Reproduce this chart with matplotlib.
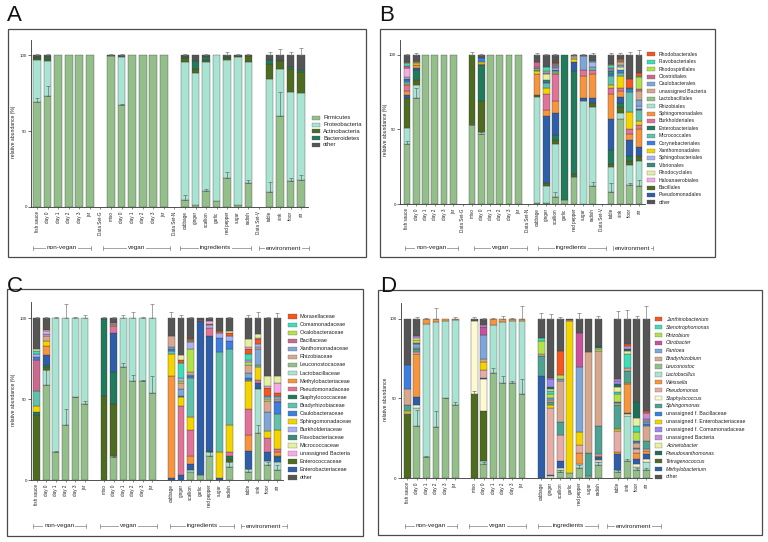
import numpy as np
import matplotlib
matplotlib.use("Agg")
import matplotlib.pyplot as plt
from matplotlib.patches import Rectangle
from matplotlib.lines import Line2D

plt.rcParams['font.family'] = ['Liberation Sans', 'DejaVu Sans']

W, H = 768, 542
fig = plt.figure(figsize=(W / 100, H / 100), dpi=100)


def fx(x):
    return x / W


def fy(y):
    return 1 - y / H


# ---------------- categories ----------------
samples_ab = ['fish sauce', 'day 0', 'day 1', 'day 2', 'day 3', 'jar', 'Data Set-G',
              'miso', 'day 0', 'day 1', 'day 2', 'day 3', 'jar', 'Data Set-N',
              'cabbage', 'ginger', 'scallion', 'garlic', 'red pepper', 'sugar', 'radish', 'Data Set-V',
              'table', 'sink', 'floor', 'air']
samples_cd = ['fish sauce', 'day 0', 'day 1', 'day 2', 'day 3', 'jar', '',
              'miso', 'day 0', 'day 1', 'day 2', 'day 3', 'jar', '',
              'cabbage', 'ginger', 'scallion', 'garlic', 'red pepper', 'sugar', 'radish', '',
              'table', 'sink', 'floor', 'air']
group_names = ['non-vegan', 'vegan', 'ingredients', 'environment']

# ---------------- Panel A: phylum ----------------
a_firmicutes = [69, 73, 100, 100, 100, 100, 0, 99.5, 67, 100, 100, 100, 100, 0, 4.5, 1, 10.5, 4, 19, 1, 15.5, 0, 10, 60, 17, 17.5]
a_proteobacteria = [28, 23, 0, 0, 0, 0, 0, 0, 32, 0, 0, 0, 0, 0, 91, 87, 85, 96, 78, 98, 80, 0, 74, 31, 59, 57.5]
a_actinobacteria = [1, 1.5, 0, 0, 0, 0, 0, 0, 0, 0, 0, 0, 0, 0, 2.5, 3, 1.5, 0, 1, 0.5, 4, 0, 10, 5, 15, 14]
a_bacteroidetes = [0.5, 1, 0, 0, 0, 0, 0, 0, 0, 0, 0, 0, 0, 0, 1, 5, 1.5, 0, 0.5, 0, 0, 0, 3, 1, 1.5, 1]
a_other = [1.5, 1.5, 0, 0, 0, 0, 0, 0.5, 1, 0, 0, 0, 0, 0, 1, 4, 1.5, 0, 1.5, 0.5, 0.5, 0, 3, 3, 7.5, 10]
a_err_top = [1, 1, 0, 0, 0, 0, 0, 0.5, 0.5, 0, 0, 0, 0, 0, 0.5, 0, 0.5, 0, 2, 0.5, 1, 0, 2, 4, 2, 5]
a_err_base = [3, 7, 0, 0, 0, 0, 0, 0, 1, 0, 0, 0, 0, 0, 3.5, 0, 1.5, 0, 4, 0, 2, 0, 6.5, 16, 2, 3.5]
a_legend = ['Firmicutes', 'Proteobacteria', 'Actinobacteria', 'Bacteroidetes', 'other']
a_colors = ['#94bf8b', '#a9e4d3', '#4e6c20', '#207a5b', '#555555']

# ---------------- Panel B: order ----------------
b_lactobacillales = [40, 71, 100, 100, 100, 100, 0, 53, 47, 100, 100, 100, 100, 0, 1, 1, 5, 3, 18, 0, 12, 0, 8, 57, 13, 12]
b_rhizobiales = [11, 9, 0, 0, 0, 0, 0, 0, 1, 0, 0, 0, 0, 0, 71, 11, 35, 0, 0, 69, 53, 0, 17, 4, 13, 17]
b_bacillales = [20, 3, 0, 0, 0, 0, 0, 47, 21, 0, 0, 0, 0, 0, 1, 2, 3, 0, 2, 0, 3, 0, 2, 4, 3, 3]
b_enterobacteriales = [0, 7, 0, 0, 0, 0, 0, 0, 24, 0, 0, 0, 0, 0, 0, 0, 3, 97, 69, 0, 0, 0, 9, 3, 3, 0]
b_pseudomonadales = [2, 1.5, 0, 0, 0, 0, 0, 0, 0, 0, 0, 0, 0, 0, 0, 45, 15, 0, 6, 2, 3, 0, 21, 4, 11, 6]
b_sphingomonadales = [3, 1.5, 0, 0, 0, 0, 0, 0, 1, 0, 0, 0, 0, 0, 14, 4, 8, 0, 0, 15, 16, 0, 17, 4, 4, 12]
b_burkholderiales = [4, 0.5, 0, 0, 0, 0, 0, 0, 0, 0, 0, 0, 0, 0, 0, 11, 18, 0, 0, 4, 3, 0, 4, 2, 3, 3]
b_xanthomonadales = [0.5, 1, 0, 0, 0, 0, 0, 0, 1, 0, 0, 0, 0, 0, 2.5, 4, 1, 0, 2, 0, 0, 0, 2, 8, 12, 3]
b_micrococcales = [1, 1, 0, 0, 0, 0, 0, 0, 0, 0, 0, 0, 0, 0, 0.5, 3, 1, 0, 0, 0, 2, 0, 6, 2, 13, 7]
b_corynebacteriales = [1.5, 0, 0, 0, 0, 0, 0, 0, 3, 0, 0, 0, 0, 0, 0, 1, 1, 0, 0, 0, 0, 0, 1, 2, 2, 0]
b_vibrionales = [1, 0, 0, 0, 0, 0, 0, 0, 0, 0, 0, 0, 0, 0, 0, 1, 0, 0, 0, 0, 0, 0, 2, 0, 1, 1]
b_sphingobacteriales = [1, 0, 0, 0, 0, 0, 0, 0, 0, 0, 0, 0, 0, 0, 0, 0, 1, 0, 0, 0, 3, 0, 1, 0, 0, 2]
b_rhodocyclales = [0, 0, 0, 0, 0, 0, 0, 0, 0, 0, 0, 0, 0, 0, 0.5, 4, 0, 0, 1, 0, 0, 0, 0, 2, 0, 0]
b_haloanaerobiales = [6, 0, 0, 0, 0, 0, 0, 0, 0, 0, 0, 0, 0, 0, 0, 0, 0, 0, 0, 0, 0, 0, 0.5, 0, 0, 0]
b_caulobacterales = [0, 0, 0, 0, 0, 0, 0, 0, 0, 0, 0, 0, 0, 0, 0.5, 1, 1, 0, 0, 9, 0, 0, 1, 1, 0, 4]
b_unassigned = [0.5, 0, 0, 0, 0, 0, 0, 0, 0, 0, 0, 0, 0, 0, 1, 1, 0, 0, 1.5, 0, 0, 0, 0, 2, 0, 6]
b_clostridiales = [1, 0, 0, 0, 0, 0, 0, 0, 0, 0, 0, 0, 0, 0, 3, 0, 1, 0, 0, 0, 0, 0, 0, 0, 0, 1]
b_rhodospirillales = [0, 0, 0, 0, 0, 0, 0, 0, 0, 0, 0, 0, 0, 0, 0, 0, 0, 0, 0, 0, 0, 0, 0, 0, 0, 8]
b_flavobacteriales = [2, 0, 0, 0, 0, 0, 0, 0, 0, 0, 0, 0, 0, 0, 0, 3, 1, 0, 0, 0, 1, 0, 2, 1, 0, 1]
b_rhodobacterales = [0.5, 0.5, 0, 0, 0, 0, 0, 0, 0, 0, 0, 0, 0, 0, 0.5, 0, 0.5, 0, 0, 0, 0, 0, 0.5, 1, 6, 2]
b_other = [5, 4, 0, 0, 0, 0, 0, 0, 2, 0, 0, 0, 0, 0, 4.5, 8, 5.5, 0, 0.5, 1, 4, 0, 6, 3, 16, 12]
b_err_top = [0.5, 1, 0, 0, 0, 0, 0, 2, 0.5, 0, 0, 0, 0, 0, 1, 0.5, 0.5, 0, 0.5, 0.5, 1, 0, 1, 1, 2, 3]
b_err_base = [2, 7, 0, 0, 0, 0, 0, 0.5, 1, 0, 0, 0, 0, 0, 0, 0, 3, 0, 0, 0, 3, 0, 6, 0, 1, 4]
b_legend = ['Rhodobacterales', 'Flavobacteriales', 'Rhodospirillales', 'Clostridiales', 'Caulobacterales',
            'unassigned Bacteria', 'Lactobacillales', 'Rhizobiales', 'Sphingomonadales', 'Burkholderiales',
            'Enterobacteriales', 'Micrococcales', 'Corynebacteriales', 'Xanthomonadales', 'Sphingobacteriales',
            'Vibrionales', 'Rhodocyclales', 'Haloanaerobiales', 'Bacillales', 'Pseudomonadales', 'other']

# ---------------- Panel C: family ----------------
c_leuconostocaceae = [0, 59, 17, 34, 51, 47, 0, 0, 14, 70, 61, 61, 54, 0, 0, 0, 5, 3, 15, 0, 8, 0, 5, 29, 9, 6]
c_lactobacillaceae = [0, 9, 83, 66, 49, 53, 0, 0, 1, 30, 39, 39, 46, 0, 0, 0, 1, 0, 2, 0, 3, 0, 2, 27, 3, 5]
c_enterococcaceae = [40, 2, 0, 0, 0, 0, 0, 52, 32, 0, 0, 0, 0, 0, 0, 0, 0, 0, 0, 0, 2, 0, 0, 0, 0, 0]
c_staphylococcaceae = [2, 1, 0, 0, 0, 0, 0, 47.5, 20, 0, 0, 0, 0, 0, 0, 0, 0, 0, 1, 0, 2, 0, 0, 1, 0, 0]
c_enterobacteriaceae = [0, 6, 0, 0, 0, 0, 0, 0, 24, 0, 0, 0, 0, 0, 1, 3, 4, 95, 71, 1, 0, 0, 11, 3, 5, 3]
c_flavobacteriaceae = [0, 0, 0, 0, 0, 0, 0, 0, 0, 0, 0, 0, 0, 0, 0, 0, 0, 0, 0, 0, 0, 0, 0, 0, 0, 1]
c_methylobacteriaceae = [0, 6, 0, 0, 0, 0, 0, 0, 0, 0, 0, 0, 0, 0, 63, 0, 5, 0, 0, 0, 0, 0, 10, 0, 0, 2]
c_pseudomonadaceae = [0, 0, 0, 0, 0, 0, 0, 0, 4, 0, 0, 0, 0, 0, 0, 43, 16, 0, 5, 0, 2, 0, 16, 2, 9, 2]
c_sphingomonadaceae = [4, 3, 0, 0, 0, 0, 0, 0, 0.5, 0, 0, 0, 0, 0, 14, 5, 8, 0, 0, 16, 17, 0, 17, 8, 4, 12]
c_bradyrhizobiaceae = [9, 0, 0, 0, 0, 0, 0, 0, 0, 0, 0, 0, 0, 0, 2, 0, 24, 0, 0, 62, 47, 0, 1, 1, 0, 10]
c_bacillaceae = [19, 0, 0, 0, 0, 0, 0, 0, 0, 0, 0, 0, 0, 0, 0, 0, 0, 0, 0, 0, 0, 0, 0, 0, 0, 0]
c_caulobacteraceae = [2, 0, 0, 0, 0, 0, 0, 0, 0, 0, 0, 0, 0, 0, 1, 1, 1, 0, 0, 9, 5, 0, 1, 0, 0, 7]
c_xanthomonadaceae = [0, 0, 0, 0, 0, 0, 0, 0, 0, 0, 0, 0, 0, 0, 1, 4, 1, 0, 0, 0, 0, 0, 3, 10, 12, 1]
c_rhizobiaceae = [0, 3, 0, 0, 0, 0, 0, 0, 0, 0, 0, 0, 0, 0, 7, 4, 2, 0, 0, 0, 0, 0, 5, 1, 7, 1]
c_oxalobacteraceae = [0, 0, 0, 0, 0, 0, 0, 0, 0, 0, 0, 0, 0, 0, 0, 1, 14, 0, 0, 0, 0, 0, 2, 0, 1, 0]
c_burkholderiaceae = [2, 1, 0, 0, 0, 0, 0, 0, 1, 0, 0, 0, 0, 0, 0, 2, 4, 0, 2, 3, 3, 0, 1, 2, 1, 1]
c_comamonadaceae = [2, 0, 0, 0, 0, 0, 0, 0, 0, 0, 0, 0, 0, 0, 0, 9, 1, 0, 0, 0, 0, 0, 4, 0, 1, 1]
c_moraxellaceae = [0, 0.5, 0, 0, 0, 0, 0, 0, 0, 0, 0, 0, 0, 0, 0, 2, 1, 1, 0.5, 1, 2, 0, 3, 3, 5, 2]
c_unassigned = [0, 1.5, 0, 0, 0, 0, 0, 0, 0.5, 0, 0, 0, 0, 0, 0, 0, 0, 0, 1.5, 0, 0, 0, 1, 1, 1, 6]
c_micrococcaceae = [1, 1, 0, 0, 0, 0, 0, 0, 0, 0, 0, 0, 0, 0, 0, 3, 0, 0, 0, 0, 1, 0, 5, 2, 6, 4]
c_other = [19, 7, 0, 0, 0, 0, 0, 0.5, 3, 0, 0, 0, 0, 0, 11, 23, 13, 1, 2, 8, 8, 0, 13, 10, 36, 36]
c_err_top = [1, 1, 0.5, 9, 0.5, 2, 0, 1, 0.5, 2, 4, 1, 9, 0, 4, 2, 1, 0, 0.5, 0, 1, 0, 2, 4, 1, 3]
c_err_base = [0, 9, 1, 10, 0.5, 2, 0, 0, 1, 2, 4, 1, 10, 0, 0, 0, 0, 0, 2, 0, 3, 0, 2, 5, 2, 3]
c_legend = ['Moraxellaceae', 'Comamonadaceae', 'Oxalobacteraceae', 'Bacillaceae', 'Xanthomonadaceae',
            'Rhizobiaceae', 'Leuconostocaceae', 'Lactobacillaceae', 'Methylobacteriaceae', 'Pseudomonadaceae',
            'Staphylococcaceae', 'Bradyrhizobiaceae', 'Caulobacteraceae', 'Sphingomonadaceae', 'Burkholderiaceae',
            'Flavobacteriaceae', 'Micrococcaceae', 'unassigned Bacteria', 'Enterococcaceae', 'Enterobacteriaceae',
            'other']

# ---------------- Panel D: genus ----------------
d_leuconostoc = [0, 33, 13, 32, 50, 46, 0, 0, 9, 66, 60, 60, 53, 0, 0, 0, 4, 3, 6, 1, 8, 0, 4, 11, 5, 5]
d_lactobacillus = [0, 11, 84, 66, 49, 53.5, 0, 0, 2, 30, 38, 39, 46, 0, 0, 0, 1, 0, 3, 0, 2, 0, 1, 28, 2, 5]
d_tetragenococcus = [40, 0, 0, 0, 0, 0, 0, 53, 31, 0, 0, 0, 0, 0, 0, 0, 0, 0, 0, 0, 0, 0, 0, 0, 0, 0]
d_staphylococcus = [1, 2, 0, 0, 0, 0, 0, 46, 20, 0, 0, 0, 0, 0, 0, 1, 1, 0, 0, 0, 1.5, 0, 0, 1.5, 2, 2]
d_methylobacterium = [0, 5, 0, 0, 0, 0, 0, 0, 1, 0, 0, 0, 0, 0, 64, 1, 5, 0, 0, 0, 2, 0, 10, 0.5, 3, 3]
d_weissella = [0, 27, 3, 2, 1, 0.5, 0, 0, 0, 4, 2, 1, 1, 0, 0, 0, 0, 0, 7, 0, 0.5, 0, 1.5, 18, 4, 2]
d_pseudomonas = [0, 1, 0, 0, 0, 0, 0, 0, 5, 0, 0, 0, 0, 0, 0, 42, 16, 0, 5, 0, 1, 0, 13, 0, 2, 1]
d_unas_enterobacteriaceae = [1, 0, 0, 0, 0, 0, 0, 0, 5, 0, 0, 0, 0, 0, 0, 2, 0, 96, 8, 0, 0, 0, 1.5, 0.5, 0, 0]
d_sphingomonas = [4, 2, 0, 0, 0, 0, 0, 0, 0, 0, 0, 0, 0, 0, 13, 2, 8, 0, 0, 15, 18, 0, 15, 8, 1, 5]
d_bradyrhizobium = [10, 1, 0, 0, 0, 0, 0, 0, 2, 0, 0, 0, 0, 0, 1, 1, 26, 0.5, 0, 63, 47, 0, 1, 1.5, 3, 10]
d_unas_bacillaceae = [15, 0, 0, 0, 0, 0, 0, 0, 0, 0, 0, 0, 0, 0, 0, 0, 0, 0, 0, 0, 0, 0, 1, 0, 1, 1]
d_pantoea = [0, 2, 0, 0, 0, 0, 0, 0, 15, 0, 0, 0, 0, 0, 0, 1, 1, 0, 41, 0, 0, 0, 0, 0, 0, 1]
d_citrobacter = [0, 1, 0, 0, 0, 0, 0, 0, 5, 0, 0, 0, 0, 0, 0, 0, 0, 0, 21, 0, 0, 0, 0, 0, 0, 0]
d_rhizobium = [0, 2, 0, 0, 0, 0, 0, 0, 0, 0, 0, 0, 0, 0, 8, 3, 3, 0, 0, 0, 1, 0, 5, 0, 6, 1]
d_stenotrophomonas = [0, 0, 0, 0, 0, 0, 0, 0, 0, 0, 0, 0, 0, 0, 2, 2, 0, 0, 0, 0, 0, 0, 1, 9, 4, 0]
d_acinetobacter = [0, 1, 0, 0, 0, 0, 0, 0, 0, 0, 0, 0, 0, 0, 0, 1, 0, 0, 0, 0, 1, 0, 3, 2, 5, 0]
d_pseudoxanthomonas = [0, 0, 0, 0, 0, 0, 0, 0, 0, 0, 0, 0, 0, 0, 0, 1, 0, 0, 0, 0, 1, 0, 2, 1, 10, 0]
d_unas_comamonadaceae = [0, 0, 0, 0, 0, 0, 0, 0, 0, 0, 0, 0, 0, 0, 0, 5, 0, 0, 0, 0, 0, 0, 2, 0, 0, 1]
d_unassigned = [0, 1, 0, 0, 0, 0, 0, 0, 1, 0, 0, 0, 0, 0, 0, 1, 0, 0, 0, 0, 0, 0, 1, 2, 0, 4]
d_janthinobacterium = [0, 0, 0, 0, 0, 0, 0, 0, 0, 0, 0, 0, 0, 0, 0, 0, 15, 0, 0, 0, 0, 0, 0, 1, 0, 1]
d_other = [29, 11, 0, 0, 0, 0, 0, 1, 4, 0, 0, 0, 0, 0, 12, 37, 20, 0.5, 9, 21, 17, 0, 38, 16, 52, 58]
d_err_top = [0, 1.5, 0.5, 7, 0, 1, 0, 1, 0.5, 0.5, 2, 0.5, 8, 0, 4, 3, 1.5, 0, 4, 0, 2, 0, 5, 5.5, 2, 8]
d_err_base = [0.5, 10, 1, 10, 0.5, 2, 0, 1.5, 1, 3, 4, 1, 9, 0, 0, 0, 1, 0, 2, 0, 2, 0, 1, 1, 1, 1]
d_legend = ['Janthinobacterium', 'Stenotrophomonas', 'Rhizobium', 'Citrobacter', 'Pantoea', 'Bradyrhizobium',
            'Leuconostoc', 'Lactobacillus', 'Weissella', 'Pseudomonas', 'Staphylococcus', 'Sphingomonas',
            'unassigned f. Bacillaceae', 'unassigned f. Enterobacteriaceae', 'unassigned f. Comamonadaceae',
            'unassigned Bacteria', 'Acinetobacter', 'Pseudoxanthomonas', 'Tetragenococcus', 'Methylobacterium',
            'other']

# ---------------- colours (legend order) ----------------
pal_bc = ['#f4561f', '#3fdcb8', '#b2e24b', '#cb6a8e', '#7ea6d8', '#d6a88e', '#94bf8b', '#a9e4d3',
          '#f7953f', '#e07398', '#207a5b', '#61c1ac', '#3d7fe0', '#f3d400', '#aab2f1', '#3b8a79',
          '#e6f0a0', '#f8aae4', '#4e6c20', '#2e5ea8', '#555555']
pal_d = ['#f4561f', '#3fdcb8', '#b2e24b', '#c9519d', '#7ea6d8', '#d6a88e', '#94bf8b', '#a9e4d3',
         '#f7953f', '#e6aca6', '#fcf9d3', '#4ea292', '#3d7fe0', '#f3d400', '#9c86f0', '#c88bd6',
         '#e6f0a0', '#1f6e5c', '#4e6c20', '#2e5ea8', '#555555']

# ---------------- stacking orders (bottom -> top) ----------------
stack_a = [('Firmicutes', a_firmicutes), ('Proteobacteria', a_proteobacteria),
           ('Actinobacteria', a_actinobacteria), ('Bacteroidetes', a_bacteroidetes), ('other', a_other)]
stack_b = [('Lactobacillales', b_lactobacillales), ('Rhizobiales', b_rhizobiales), ('Bacillales', b_bacillales),
           ('Enterobacteriales', b_enterobacteriales), ('Pseudomonadales', b_pseudomonadales),
           ('Sphingomonadales', b_sphingomonadales), ('Burkholderiales', b_burkholderiales),
           ('Xanthomonadales', b_xanthomonadales), ('Micrococcales', b_micrococcales),
           ('Corynebacteriales', b_corynebacteriales), ('Vibrionales', b_vibrionales),
           ('Sphingobacteriales', b_sphingobacteriales), ('Rhodocyclales', b_rhodocyclales),
           ('Haloanaerobiales', b_haloanaerobiales), ('Caulobacterales', b_caulobacterales),
           ('unassigned Bacteria', b_unassigned), ('Clostridiales', b_clostridiales),
           ('Rhodospirillales', b_rhodospirillales), ('Flavobacteriales', b_flavobacteriales),
           ('Rhodobacterales', b_rhodobacterales), ('other', b_other)]
stack_c = [('Leuconostocaceae', c_leuconostocaceae), ('Lactobacillaceae', c_lactobacillaceae),
           ('Enterococcaceae', c_enterococcaceae), ('Staphylococcaceae', c_staphylococcaceae),
           ('Enterobacteriaceae', c_enterobacteriaceae), ('Flavobacteriaceae', c_flavobacteriaceae),
           ('Methylobacteriaceae', c_methylobacteriaceae), ('Pseudomonadaceae', c_pseudomonadaceae),
           ('Sphingomonadaceae', c_sphingomonadaceae), ('Bradyrhizobiaceae', c_bradyrhizobiaceae),
           ('Bacillaceae', c_bacillaceae), ('Caulobacteraceae', c_caulobacteraceae),
           ('Xanthomonadaceae', c_xanthomonadaceae), ('Rhizobiaceae', c_rhizobiaceae),
           ('Oxalobacteraceae', c_oxalobacteraceae), ('Burkholderiaceae', c_burkholderiaceae),
           ('Comamonadaceae', c_comamonadaceae), ('Moraxellaceae', c_moraxellaceae),
           ('unassigned Bacteria', c_unassigned), ('Micrococcaceae', c_micrococcaceae), ('other', c_other)]
stack_d = [('Leuconostoc', d_leuconostoc), ('Lactobacillus', d_lactobacillus),
           ('Tetragenococcus', d_tetragenococcus), ('Staphylococcus', d_staphylococcus),
           ('Methylobacterium', d_methylobacterium), ('Weissella', d_weissella), ('Pseudomonas', d_pseudomonas),
           ('unassigned f. Enterobacteriaceae', d_unas_enterobacteriaceae), ('Sphingomonas', d_sphingomonas),
           ('Bradyrhizobium', d_bradyrhizobium), ('unassigned f. Bacillaceae', d_unas_bacillaceae),
           ('Pantoea', d_pantoea), ('Citrobacter', d_citrobacter), ('Rhizobium', d_rhizobium),
           ('Stenotrophomonas', d_stenotrophomonas), ('Acinetobacter', d_acinetobacter),
           ('Pseudoxanthomonas', d_pseudoxanthomonas), ('unassigned f. Comamonadaceae', d_unas_comamonadaceae),
           ('unassigned Bacteria', d_unassigned), ('Janthinobacterium', d_janthinobacterium), ('other', d_other)]


def draw_panel(letter, box, letter_xy, axpx, xlim, labels, stack, legend, palette,
               err_top, err_base, ylabel, ylabel_x, groups, group_y, leg, italic=False):
    colors = dict(zip(legend, palette))
    bx0, by0, bx1, by1 = box
    fig.add_artist(Rectangle((fx(bx0), fy(by1)), (bx1 - bx0) / W, (by1 - by0) / H,
                             transform=fig.transFigure, fill=False, edgecolor='#4a4a4a', linewidth=0.9))
    fig.text(fx(letter_xy[0]), fy(letter_xy[1]), letter, fontsize=16, ha='left', va='baseline', color='#111111')

    l, t, r, b = axpx
    ax = fig.add_axes([fx(l), fy(b), (r - l) / W, (b - t) / H])
    n = len(labels)
    x = np.arange(n)
    bottom = np.zeros(n)
    first = np.full(n, np.nan)
    for name, vals in stack:
        v = np.asarray(vals, float)
        m = v > 0
        if m.any():
            ax.bar(x[m], v[m], width=0.72, bottom=bottom[m], color=colors[name],
                   edgecolor='#3c3c3c', linewidth=0.25, zorder=2)
        top = bottom + v
        mm = np.isnan(first) & m
        first[mm] = top[mm]
        bottom = top

    et = np.asarray(err_top, float)
    m = et > 0
    ax.errorbar(x[m], bottom[m], yerr=[np.zeros(m.sum()), et[m]], fmt='none', ecolor='#707070',
                elinewidth=0.45, capsize=1.3, capthick=0.45, zorder=3)
    eb = np.asarray(err_base, float)
    m = eb > 0
    ax.errorbar(x[m], first[m], yerr=[np.zeros(m.sum()), eb[m]], fmt='none', ecolor='#606060',
                elinewidth=0.45, capsize=1.3, capthick=0.45, zorder=3)

    ax.set_xlim(*xlim)
    ax.set_ylim(0, 110)
    for s in ['top', 'right']:
        ax.spines[s].set_visible(False)
    for s in ['left', 'bottom']:
        ax.spines[s].set_linewidth(0.6)
        ax.spines[s].set_color('#333333')
    ax.set_yticks([0, 50, 100])
    ax.set_yticklabels(['0', '50', '100'], fontsize=3.2, color='#222222')
    ax.tick_params(axis='y', length=2, width=0.5, pad=1, color='#333333')
    ticks = [i for i, lab in enumerate(labels) if lab]
    ax.set_xticks(ticks)
    ax.set_xticklabels([labels[i] for i in ticks], rotation=90, fontsize=3.3, color='#222222')
    ax.tick_params(axis='x', length=1.6, width=0.4, pad=1.5, color='#333333')
    ax.set_ylabel(ylabel, fontsize=3.6, color='#222222')
    ax.yaxis.set_label_coords((ylabel_x - l) / (r - l), 0.45)

    def pos2fig(p):
        return fx(l) + (p - xlim[0]) / (xlim[1] - xlim[0]) * (r - l) / W

    gy = fy(group_y)
    for name, (xa, xb) in zip(group_names, groups):
        fa, fb = pos2fig(xa), pos2fig(xb)
        fig.add_artist(Line2D([fa, fb], [gy, gy], color='#808080', linewidth=0.5))
        for f in (fa, fb):
            fig.add_artist(Line2D([f, f], [gy - 1.6 / H, gy + 1.6 / H], color='#808080', linewidth=0.5))
        fig.text((fa + fb) / 2, gy, name, ha='center', va='center', fontsize=4.6, color='#222222',
                 bbox=dict(facecolor='white', edgecolor='none', pad=0.6))

    hx0, hx1, tx, ly0, ldy, hh, fs = leg
    for i, name in enumerate(legend):
        yc = ly0 + i * ldy
        fig.add_artist(Rectangle((fx(hx0), fy(yc + hh / 2)), (hx1 - hx0) / W, hh / H,
                                 transform=fig.transFigure, facecolor=colors[name],
                                 edgecolor='#555555', linewidth=0.2))
        style = 'italic' if (italic and not name.startswith('unassigned') and name != 'other') else 'normal'
        fig.text(fx(tx), fy(yc), name, fontsize=fs, va='center', ha='left', color='#222222', style=style)
    return ax


draw_panel('A', (8, 29, 366, 257), (7, 21), (31, 40, 308, 207), (-0.57, 25.64), samples_ab,
           stack_a, a_legend, a_colors, a_err_top, a_err_base, 'relative abundance (%)', 16,
           [(-0.4, 5.1), (6.2, 12.6), (13.5, 20.2), (21.0, 25.7)], 248,
           (312, 320, 323, 117.7, 6.8, 4.0, 4.2))

draw_panel('B', (380, 29, 715, 257), (379, 21), (400, 40, 645, 204), (-0.75, 25.65), samples_ab,
           stack_b, b_legend, pal_bc, b_err_top, b_err_base, 'relative abundance (%)', 388,
           [(-0.25, 5.5), (7.2, 12.9), (14.1, 21.4), (22.2, 26.5)], 248,
           (647, 655, 659, 54.3, 7.4, 4.0, 3.7))

draw_panel('C', (7, 289, 363, 536), (7, 292), (31, 302, 283, 480), (-0.59, 25.6), samples_cd,
           stack_c, c_legend, pal_bc, c_err_top, c_err_base, 'relative abundance (%)', 16,
           [(-0.4, 5.1), (6.6, 12.5), (13.9, 20.5), (21.2, 26.0)], 526,
           (288, 297, 300, 316.7, 8.05, 4.5, 4.0))

draw_panel('D', (378, 290, 762, 535), (380, 292), (400.7, 303, 652, 478), (-0.69, 25.6), samples_cd,
           stack_d, d_legend, pal_d, d_err_top, d_err_base, 'relative abundance', 388,
           [(-0.28, 5.2), (6.5, 12.4), (13.7, 20.0), (20.9, 26.5)], 526,
           (655, 662, 666, 319.3, 7.88, 4.3, 3.8), italic=True)

fig.savefig('out.png', dpi=100, facecolor='white')
